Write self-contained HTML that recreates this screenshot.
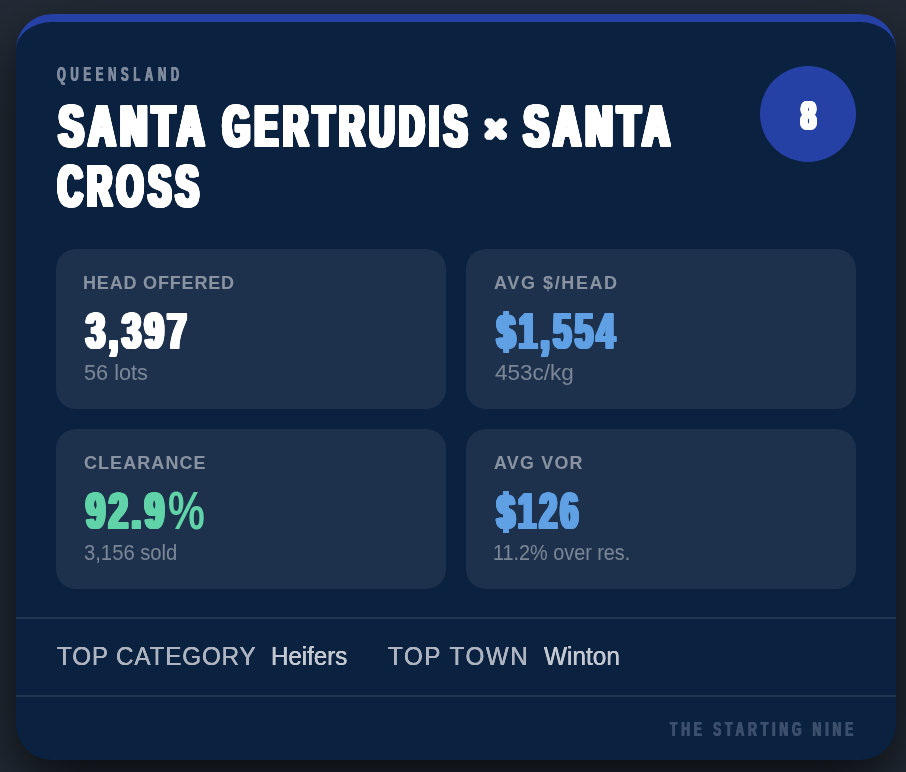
<!DOCTYPE html>
<html lang="en">
<head>
<meta charset="utf-8">
<meta name="viewport" content="width=906">
<title>Santa Gertrudis × Santa Cross — The Starting Nine</title>
<style>
*{box-sizing:border-box;margin:0;padding:0}
html,body{width:906px;height:772px;overflow:hidden}
body{position:relative;background:#232b36;font-family:'Liberation Sans',sans-serif;-webkit-font-smoothing:antialiased}
.t{position:absolute;display:block;white-space:nowrap;line-height:1;transform-origin:0 0;font-style:normal}
h1,h2,p,strong{font-weight:inherit;font-size:inherit}
.card{position:absolute;left:16px;top:14px;width:880px;height:746px;background:#0b2140;border-top:8px solid #2541a5;border-radius:36px;box-shadow:0 24px 60px rgba(0,0,0,0.7)}
.stat{position:absolute;width:390px;height:160px;background:#1d314c;border-radius:20px}
.rule{position:absolute;left:0;width:100%;height:2px;background:rgba(255,255,255,0.09)}
.badge{position:absolute;left:744px;top:44px;width:96px;height:96px;border-radius:50%;background:#2541a5}
</style>
</head>
<body>
<main class="card">
<header>
<p class="t region" style="left:40.55px;top:42.9px;color:#808c9e;font-weight:700;font-size:19.5px;letter-spacing:8.172px;text-shadow:-0.8px 0 0 #808c9e,0.8px 0 0 #808c9e;transform:scale(0.5812,1.0)">QUEENSLAND</p>
<h1>
<span class="t" style="left:42.79px;top:76.1px;color:#fff;font-weight:700;font-size:57px;letter-spacing:8.6px;text-shadow:-4px -1.2px 0 #fff,-3.2px -1.2px 0 #fff,-2.4px -1.2px 0 #fff,-1.6px -1.2px 0 #fff,-0.8px -1.2px 0 #fff,0px -1.2px 0 #fff,0.8px -1.2px 0 #fff,1.6px -1.2px 0 #fff,2.4px -1.2px 0 #fff,3.2px -1.2px 0 #fff,4px -1.2px 0 #fff,-4px -0.4px 0 #fff,-3.2px -0.4px 0 #fff,-2.4px -0.4px 0 #fff,-1.6px -0.4px 0 #fff,-0.8px -0.4px 0 #fff,0px -0.4px 0 #fff,0.8px -0.4px 0 #fff,1.6px -0.4px 0 #fff,2.4px -0.4px 0 #fff,3.2px -0.4px 0 #fff,4px -0.4px 0 #fff,-4px 0.4px 0 #fff,-3.2px 0.4px 0 #fff,-2.4px 0.4px 0 #fff,-1.6px 0.4px 0 #fff,-0.8px 0.4px 0 #fff,0px 0.4px 0 #fff,0.8px 0.4px 0 #fff,1.6px 0.4px 0 #fff,2.4px 0.4px 0 #fff,3.2px 0.4px 0 #fff,4px 0.4px 0 #fff,-4px 1.2px 0 #fff,-3.2px 1.2px 0 #fff,-2.4px 1.2px 0 #fff,-1.6px 1.2px 0 #fff,-0.8px 1.2px 0 #fff,0px 1.2px 0 #fff,0.8px 1.2px 0 #fff,1.6px 1.2px 0 #fff,2.4px 1.2px 0 #fff,3.2px 1.2px 0 #fff,4px 1.2px 0 #fff;transform:scale(0.6392,1.0)">SANTA</span>
<span class="t" style="left:206.97px;top:76.1px;color:#fff;font-weight:700;font-size:57px;letter-spacing:8.6px;text-shadow:-4px -1.2px 0 #fff,-3.2px -1.2px 0 #fff,-2.4px -1.2px 0 #fff,-1.6px -1.2px 0 #fff,-0.8px -1.2px 0 #fff,0px -1.2px 0 #fff,0.8px -1.2px 0 #fff,1.6px -1.2px 0 #fff,2.4px -1.2px 0 #fff,3.2px -1.2px 0 #fff,4px -1.2px 0 #fff,-4px -0.4px 0 #fff,-3.2px -0.4px 0 #fff,-2.4px -0.4px 0 #fff,-1.6px -0.4px 0 #fff,-0.8px -0.4px 0 #fff,0px -0.4px 0 #fff,0.8px -0.4px 0 #fff,1.6px -0.4px 0 #fff,2.4px -0.4px 0 #fff,3.2px -0.4px 0 #fff,4px -0.4px 0 #fff,-4px 0.4px 0 #fff,-3.2px 0.4px 0 #fff,-2.4px 0.4px 0 #fff,-1.6px 0.4px 0 #fff,-0.8px 0.4px 0 #fff,0px 0.4px 0 #fff,0.8px 0.4px 0 #fff,1.6px 0.4px 0 #fff,2.4px 0.4px 0 #fff,3.2px 0.4px 0 #fff,4px 0.4px 0 #fff,-4px 1.2px 0 #fff,-3.2px 1.2px 0 #fff,-2.4px 1.2px 0 #fff,-1.6px 1.2px 0 #fff,-0.8px 1.2px 0 #fff,0px 1.2px 0 #fff,0.8px 1.2px 0 #fff,1.6px 1.2px 0 #fff,2.4px 1.2px 0 #fff,3.2px 1.2px 0 #fff,4px 1.2px 0 #fff;transform:scale(0.6035,1.0)">GERTRUDIS</span>
<span class="t" style="left:469.04px;top:89.4px;color:#fff;font-weight:700;font-size:34px;text-shadow:-2px -1.5px 0 #fff,-1.2px -1.5px 0 #fff,-0.4px -1.5px 0 #fff,0.4px -1.5px 0 #fff,1.2px -1.5px 0 #fff,2px -1.5px 0 #fff,-2px -0.5px 0 #fff,-1.2px -0.5px 0 #fff,-0.4px -0.5px 0 #fff,0.4px -0.5px 0 #fff,1.2px -0.5px 0 #fff,2px -0.5px 0 #fff,-2px 0.5px 0 #fff,-1.2px 0.5px 0 #fff,-0.4px 0.5px 0 #fff,0.4px 0.5px 0 #fff,1.2px 0.5px 0 #fff,2px 0.5px 0 #fff,-2px 1.5px 0 #fff,-1.2px 1.5px 0 #fff,-0.4px 1.5px 0 #fff,0.4px 1.5px 0 #fff,1.2px 1.5px 0 #fff,2px 1.5px 0 #fff;transform:scale(1.0767,1.06)">×</span>
<span class="t" style="left:508.2px;top:76.1px;color:#fff;font-weight:700;font-size:57px;letter-spacing:8.6px;text-shadow:-4px -1.2px 0 #fff,-3.2px -1.2px 0 #fff,-2.4px -1.2px 0 #fff,-1.6px -1.2px 0 #fff,-0.8px -1.2px 0 #fff,0px -1.2px 0 #fff,0.8px -1.2px 0 #fff,1.6px -1.2px 0 #fff,2.4px -1.2px 0 #fff,3.2px -1.2px 0 #fff,4px -1.2px 0 #fff,-4px -0.4px 0 #fff,-3.2px -0.4px 0 #fff,-2.4px -0.4px 0 #fff,-1.6px -0.4px 0 #fff,-0.8px -0.4px 0 #fff,0px -0.4px 0 #fff,0.8px -0.4px 0 #fff,1.6px -0.4px 0 #fff,2.4px -0.4px 0 #fff,3.2px -0.4px 0 #fff,4px -0.4px 0 #fff,-4px 0.4px 0 #fff,-3.2px 0.4px 0 #fff,-2.4px 0.4px 0 #fff,-1.6px 0.4px 0 #fff,-0.8px 0.4px 0 #fff,0px 0.4px 0 #fff,0.8px 0.4px 0 #fff,1.6px 0.4px 0 #fff,2.4px 0.4px 0 #fff,3.2px 0.4px 0 #fff,4px 0.4px 0 #fff,-4px 1.2px 0 #fff,-3.2px 1.2px 0 #fff,-2.4px 1.2px 0 #fff,-1.6px 1.2px 0 #fff,-0.8px 1.2px 0 #fff,0px 1.2px 0 #fff,0.8px 1.2px 0 #fff,1.6px 1.2px 0 #fff,2.4px 1.2px 0 #fff,3.2px 1.2px 0 #fff,4px 1.2px 0 #fff;transform:scale(0.6413,1.0)">SANTA</span>
<span class="t" style="left:41.8px;top:136.2px;color:#fff;font-weight:700;font-size:57px;letter-spacing:8.6px;text-shadow:-4px -1.2px 0 #fff,-3.2px -1.2px 0 #fff,-2.4px -1.2px 0 #fff,-1.6px -1.2px 0 #fff,-0.8px -1.2px 0 #fff,0px -1.2px 0 #fff,0.8px -1.2px 0 #fff,1.6px -1.2px 0 #fff,2.4px -1.2px 0 #fff,3.2px -1.2px 0 #fff,4px -1.2px 0 #fff,-4px -0.4px 0 #fff,-3.2px -0.4px 0 #fff,-2.4px -0.4px 0 #fff,-1.6px -0.4px 0 #fff,-0.8px -0.4px 0 #fff,0px -0.4px 0 #fff,0.8px -0.4px 0 #fff,1.6px -0.4px 0 #fff,2.4px -0.4px 0 #fff,3.2px -0.4px 0 #fff,4px -0.4px 0 #fff,-4px 0.4px 0 #fff,-3.2px 0.4px 0 #fff,-2.4px 0.4px 0 #fff,-1.6px 0.4px 0 #fff,-0.8px 0.4px 0 #fff,0px 0.4px 0 #fff,0.8px 0.4px 0 #fff,1.6px 0.4px 0 #fff,2.4px 0.4px 0 #fff,3.2px 0.4px 0 #fff,4px 0.4px 0 #fff,-4px 1.2px 0 #fff,-3.2px 1.2px 0 #fff,-2.4px 1.2px 0 #fff,-1.6px 1.2px 0 #fff,-0.8px 1.2px 0 #fff,0px 1.2px 0 #fff,0.8px 1.2px 0 #fff,1.6px 1.2px 0 #fff,2.4px 1.2px 0 #fff,3.2px 1.2px 0 #fff,4px 1.2px 0 #fff;transform:scale(0.5922,1.0)">CROSS</span>
</h1>
<div class="badge"><span class="t rank" style="left:40.75px;top:30.4px;color:#fff;font-weight:700;font-size:39.5px;text-shadow:-2.5px -0.8px 0 #fff,-1.79px -0.8px 0 #fff,-1.07px -0.8px 0 #fff,-0.36px -0.8px 0 #fff,0.36px -0.8px 0 #fff,1.07px -0.8px 0 #fff,1.79px -0.8px 0 #fff,2.5px -0.8px 0 #fff,-2.5px 0 0 #fff,-1.79px 0 0 #fff,-1.07px 0 0 #fff,-0.36px 0 0 #fff,0.36px 0 0 #fff,1.07px 0 0 #fff,1.79px 0 0 #fff,2.5px 0 0 #fff,-2.5px 0.8px 0 #fff,-1.79px 0.8px 0 #fff,-1.07px 0.8px 0 #fff,-0.36px 0.8px 0 #fff,0.36px 0.8px 0 #fff,1.07px 0.8px 0 #fff,1.79px 0.8px 0 #fff,2.5px 0.8px 0 #fff;transform:scale(0.6837,1.0)">8</span></div>
</header>
<section class="stats">
<div class="stat" style="left:40px;top:227px">
<h2 class="t label" style="left:26.96px;top:24.65px;color:rgba(255,255,255,0.48);font-weight:700;font-size:18px;letter-spacing:0.823px;transform:scale(0.9999,1.0)">HEAD OFFERED</h2>
<strong class="t value" style="left:30.11px;top:57.4px;color:#fff;font-weight:700;font-size:50px;letter-spacing:5.4px;text-shadow:-3px -0.5px 0 #fff,-2.25px -0.5px 0 #fff,-1.5px -0.5px 0 #fff,-0.75px -0.5px 0 #fff,0px -0.5px 0 #fff,0.75px -0.5px 0 #fff,1.5px -0.5px 0 #fff,2.25px -0.5px 0 #fff,3px -0.5px 0 #fff,-3px 0.5px 0 #fff,-2.25px 0.5px 0 #fff,-1.5px 0.5px 0 #fff,-0.75px 0.5px 0 #fff,0px 0.5px 0 #fff,0.75px 0.5px 0 #fff,1.5px 0.5px 0 #fff,2.25px 0.5px 0 #fff,3px 0.5px 0 #fff;transform:scale(0.6846,1.0)">3,397</strong>
<p class="t sub" style="left:28.13px;top:112.9px;color:rgba(255,255,255,0.41);font-weight:400;font-size:22px;transform:scale(0.9867,1.0)">56 lots</p>
</div>
<div class="stat" style="left:450px;top:227px">
<h2 class="t label" style="left:27.74px;top:24.65px;color:rgba(255,255,255,0.48);font-weight:700;font-size:18px;letter-spacing:1.599px;transform:scale(1.0003,1.0)">AVG $/HEAD</h2>
<strong class="t value" style="left:30.59px;top:57.4px;color:#60a0e4;font-weight:700;font-size:50px;letter-spacing:5.4px;text-shadow:-3px -0.5px 0 #60a0e4,-2.25px -0.5px 0 #60a0e4,-1.5px -0.5px 0 #60a0e4,-0.75px -0.5px 0 #60a0e4,0px -0.5px 0 #60a0e4,0.75px -0.5px 0 #60a0e4,1.5px -0.5px 0 #60a0e4,2.25px -0.5px 0 #60a0e4,3px -0.5px 0 #60a0e4,-3px 0.5px 0 #60a0e4,-2.25px 0.5px 0 #60a0e4,-1.5px 0.5px 0 #60a0e4,-0.75px 0.5px 0 #60a0e4,0px 0.5px 0 #60a0e4,0.75px 0.5px 0 #60a0e4,1.5px 0.5px 0 #60a0e4,2.25px 0.5px 0 #60a0e4,3px 0.5px 0 #60a0e4;transform:scale(0.6549,1.0)">$1,554</strong>
<p class="t sub" style="left:28.8px;top:112.9px;color:rgba(255,255,255,0.41);font-weight:400;font-size:22px;transform:scale(1.0221,1.0)">453c/kg</p>
</div>
<div class="stat" style="left:40px;top:407px">
<h2 class="t label" style="left:28.2px;top:24.65px;color:rgba(255,255,255,0.48);font-weight:700;font-size:18px;letter-spacing:1.071px;transform:scale(0.9995,1.0)">CLEARANCE</h2>
<strong class="t value" style="left:29.8px;top:57.4px;color:#61d3a9;font-weight:700;font-size:50px;letter-spacing:5.4px;text-shadow:-3px -0.5px 0 #61d3a9,-2.25px -0.5px 0 #61d3a9,-1.5px -0.5px 0 #61d3a9,-0.75px -0.5px 0 #61d3a9,0px -0.5px 0 #61d3a9,0.75px -0.5px 0 #61d3a9,1.5px -0.5px 0 #61d3a9,2.25px -0.5px 0 #61d3a9,3px -0.5px 0 #61d3a9,-3px 0.5px 0 #61d3a9,-2.25px 0.5px 0 #61d3a9,-1.5px 0.5px 0 #61d3a9,-0.75px 0.5px 0 #61d3a9,0px 0.5px 0 #61d3a9,0.75px 0.5px 0 #61d3a9,1.5px 0.5px 0 #61d3a9,2.25px 0.5px 0 #61d3a9,3px 0.5px 0 #61d3a9;transform:scale(0.6866,1.0)">92.9</strong><strong class="t value unit" style="left:112.2px;top:56.1px;color:#61d3a9;font-weight:700;font-size:51.5px;transform:scale(0.8051,1.03)">%</strong>
<p class="t sub" style="left:28.23px;top:112.9px;color:rgba(255,255,255,0.41);font-weight:400;font-size:22px;transform:scale(0.9197,1.0)">3,156 sold</p>
</div>
<div class="stat" style="left:450px;top:407px">
<h2 class="t label" style="left:27.73px;top:24.65px;color:rgba(255,255,255,0.48);font-weight:700;font-size:18px;letter-spacing:1.248px;transform:scale(0.9915,1.0)">AVG VOR</h2>
<strong class="t value" style="left:31.19px;top:57.4px;color:#60a0e4;font-weight:700;font-size:50px;letter-spacing:5.4px;text-shadow:-3px -0.5px 0 #60a0e4,-2.25px -0.5px 0 #60a0e4,-1.5px -0.5px 0 #60a0e4,-0.75px -0.5px 0 #60a0e4,0px -0.5px 0 #60a0e4,0.75px -0.5px 0 #60a0e4,1.5px -0.5px 0 #60a0e4,2.25px -0.5px 0 #60a0e4,3px -0.5px 0 #60a0e4,-3px 0.5px 0 #60a0e4,-2.25px 0.5px 0 #60a0e4,-1.5px 0.5px 0 #60a0e4,-0.75px 0.5px 0 #60a0e4,0px 0.5px 0 #60a0e4,0.75px 0.5px 0 #60a0e4,1.5px 0.5px 0 #60a0e4,2.25px 0.5px 0 #60a0e4,3px 0.5px 0 #60a0e4;transform:scale(0.6374,1.0)">$126</strong>
<p class="t sub" style="left:26.81px;top:112.9px;color:rgba(255,255,255,0.41);font-weight:400;font-size:22px;transform:scale(0.9005,1.0)">11.2% over res.</p>
</div>
</section>
<div class="rule" style="top:595px"></div>
<section class="meta">
<span class="t k" style="left:40.77px;top:621.4px;color:#aeb5c0;font-weight:400;font-size:26px;letter-spacing:0.932px;text-shadow:-0.2px 0 0 #aeb5c0,0.2px 0 0 #aeb5c0;transform:scale(0.9306,1.0)">TOP CATEGORY</span>
<span class="t v" style="left:255.27px;top:621.4px;color:#c4c9d1;font-weight:400;font-size:26px;text-shadow:-0.2px 0 0 #c4c9d1,0.2px 0 0 #c4c9d1;transform:scale(0.9261,1.0)">Heifers</span>
<span class="t k" style="left:371.8px;top:621.4px;color:#aeb5c0;font-weight:400;font-size:26px;letter-spacing:1.691px;text-shadow:-0.2px 0 0 #aeb5c0,0.2px 0 0 #aeb5c0;transform:scale(0.9317,1.0)">TOP TOWN</span>
<span class="t v" style="left:527.86px;top:621.4px;color:#c4c9d1;font-weight:400;font-size:26px;text-shadow:-0.2px 0 0 #c4c9d1,0.2px 0 0 #c4c9d1;transform:scale(0.9378,1.0)">Winton</span>
</section>
<div class="rule" style="top:673px"></div>
<footer>
<p class="t brand" style="left:654.12px;top:697.1px;color:#3c4f6c;font-weight:700;font-size:20.5px;letter-spacing:6.918px;text-shadow:-1px 0px 0 #3c4f6c,-0.33px 0 0 #3c4f6c,0.33px 0 0 #3c4f6c,1px 0px 0 #3c4f6c;transform:scale(0.581,1.0)">THE STARTING NINE</p>
</footer>
</main>
</body>
</html>
